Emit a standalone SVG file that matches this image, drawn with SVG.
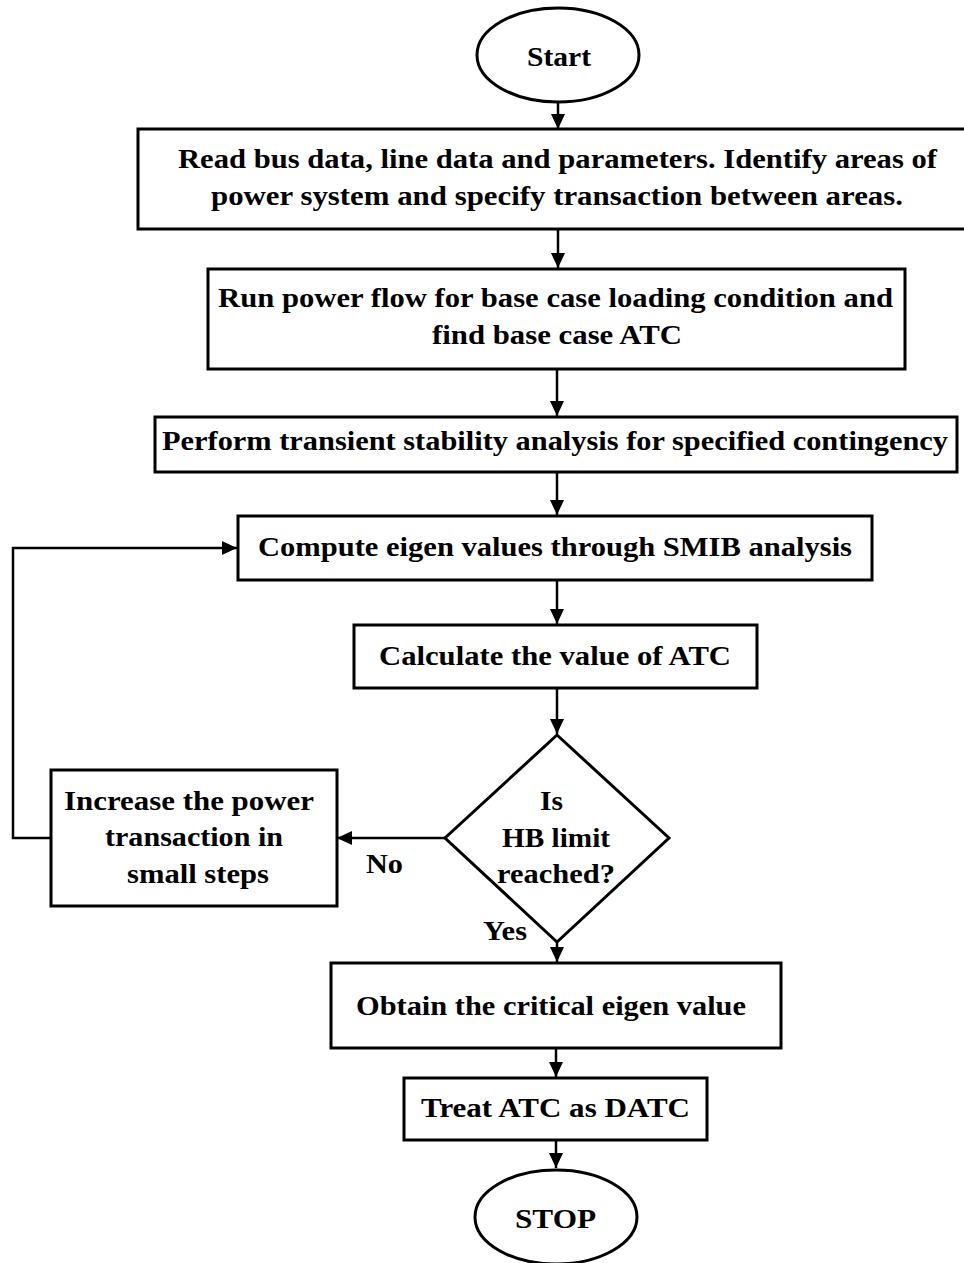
<svg xmlns="http://www.w3.org/2000/svg" width="964" height="1263" viewBox="0 0 964 1263">
<defs>
<marker id="arr" markerUnits="userSpaceOnUse" markerWidth="16" markerHeight="14" refX="15" refY="7" orient="auto">
<path d="M0,0 L15,7 L0,14 Z" fill="#000"/>
</marker>
<style>
.box{fill:#fff;stroke:#000;stroke-width:3}
.t{font-family:'Liberation Serif','Times New Roman',Times,serif;font-weight:700;font-size:27px;fill:#000}
.c{fill:none;stroke:#000;stroke-width:2.5}
</style>
</defs>
<rect width="964" height="1263" fill="#fff"/>
<g id="connectors">
<line class="c" x1="558" y1="103" x2="558" y2="129" marker-end="url(#arr)"/>
<line class="c" x1="558" y1="229" x2="558" y2="268" marker-end="url(#arr)"/>
<line class="c" x1="557" y1="369" x2="557" y2="416" marker-end="url(#arr)"/>
<line class="c" x1="557" y1="472" x2="557" y2="515" marker-end="url(#arr)"/>
<line class="c" x1="557" y1="580" x2="557" y2="624" marker-end="url(#arr)"/>
<line class="c" x1="557" y1="688" x2="557" y2="734" marker-end="url(#arr)"/>
<line class="c" x1="445" y1="838" x2="337" y2="838" marker-end="url(#arr)"/>
<polyline class="c" points="51,838 13,838 13,548 237,548" marker-end="url(#arr)"/>
<line class="c" x1="557" y1="942" x2="557" y2="962" marker-end="url(#arr)"/>
<line class="c" x1="556" y1="1048" x2="556" y2="1077" marker-end="url(#arr)"/>
<line class="c" x1="556" y1="1140" x2="556" y2="1168" marker-end="url(#arr)"/>
<text class="t" x="366" y="873" textLength="37" lengthAdjust="spacingAndGlyphs">No</text>
<text class="t" x="483" y="940" textLength="44" lengthAdjust="spacingAndGlyphs">Yes</text>
</g>
<g id="start">
<ellipse class="box" cx="558" cy="55" rx="81" ry="47"/>
<text class="t" x="527" y="66" textLength="64" lengthAdjust="spacingAndGlyphs">Start</text>
</g>
<g id="read">
<rect class="box" x="138" y="129" width="840" height="100"/>
<text class="t" x="178" y="168" textLength="759" lengthAdjust="spacingAndGlyphs">Read bus data, line data and parameters. Identify areas of</text>
<text class="t" x="211" y="205" textLength="692" lengthAdjust="spacingAndGlyphs">power system and specify transaction between areas.</text>
</g>
<g id="powerflow">
<rect class="box" x="208" y="269" width="697" height="100"/>
<text class="t" x="218" y="307" textLength="675" lengthAdjust="spacingAndGlyphs">Run power flow for base case loading condition and</text>
<text class="t" x="432" y="344" textLength="250" lengthAdjust="spacingAndGlyphs">find base case ATC</text>
</g>
<g id="transient">
<rect class="box" x="155" y="417" width="802" height="55"/>
<text class="t" x="162" y="450" textLength="786" lengthAdjust="spacingAndGlyphs">Perform transient stability analysis for specified contingency</text>
</g>
<g id="eigen">
<rect class="box" x="238" y="516" width="634" height="64"/>
<text class="t" x="258" y="556" textLength="594" lengthAdjust="spacingAndGlyphs">Compute eigen values through SMIB analysis</text>
</g>
<g id="calc">
<rect class="box" x="354" y="625" width="403" height="63"/>
<text class="t" x="379" y="665" textLength="352" lengthAdjust="spacingAndGlyphs">Calculate the value of ATC</text>
</g>
<g id="decision">
<polygon class="box" points="557,735 669,838 557,942 445,838"/>
<text class="t" x="540" y="810" textLength="23" lengthAdjust="spacingAndGlyphs">Is</text>
<text class="t" x="502" y="847" textLength="108" lengthAdjust="spacingAndGlyphs">HB limit</text>
<text class="t" x="497" y="883" textLength="118" lengthAdjust="spacingAndGlyphs">reached?</text>
</g>
<g id="increase">
<rect class="box" x="51" y="770" width="286" height="136"/>
<text class="t" x="64" y="810" textLength="250" lengthAdjust="spacingAndGlyphs">Increase the power</text>
<text class="t" x="105" y="846" textLength="178" lengthAdjust="spacingAndGlyphs">transaction in</text>
<text class="t" x="127" y="883" textLength="142" lengthAdjust="spacingAndGlyphs">small steps</text>
</g>
<g id="obtain">
<rect class="box" x="331" y="963" width="450" height="85"/>
<text class="t" x="356" y="1015" textLength="390" lengthAdjust="spacingAndGlyphs">Obtain the critical eigen value</text>
</g>
<g id="treat">
<rect class="box" x="404" y="1078" width="303" height="62"/>
<text class="t" x="421" y="1117" textLength="269" lengthAdjust="spacingAndGlyphs">Treat ATC as DATC</text>
</g>
<g id="stop">
<ellipse class="box" cx="556" cy="1217" rx="81" ry="47"/>
<text class="t" x="515" y="1228" textLength="81" lengthAdjust="spacingAndGlyphs">STOP</text>
</g>
</svg>
